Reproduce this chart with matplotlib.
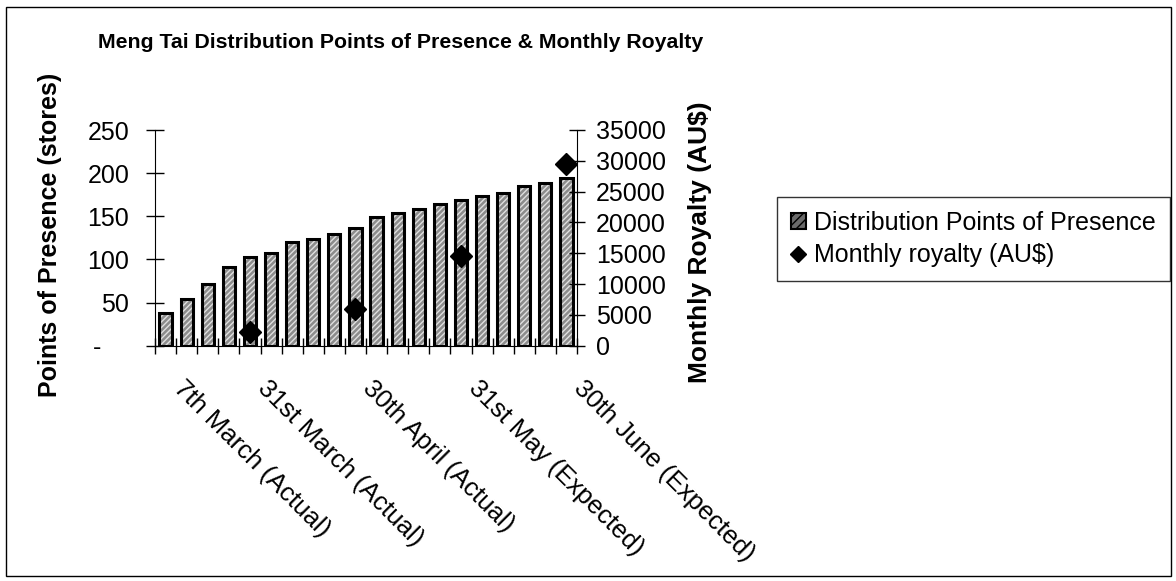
import matplotlib.pyplot as plt
from matplotlib.patches import Rectangle, Patch
from matplotlib.lines import Line2D
import matplotlib.transforms as mtransforms

plt.rcParams['font.family'] = ['Liberation Sans', 'DejaVu Sans']

# points of presence, one bar per period
stores = [38, 54, 71, 91, 103, 108, 120, 124, 129, 136,
          149, 154, 158, 164, 169, 173, 177, 185, 189, 194]
# monthly royalty, only known at some periods
royalty_idx = [4, 9, 14, 19]
royalty = [2200, 5900, 14600, 29500]
label_idx = [0, 4, 9, 14, 19]
labels = ['7th March (Actual)', '31st March (Actual)', '30th April (Actual)',
          '31st May (Expected)', '30th June (Expected)']

W, H = 1176, 581
fig = plt.figure(figsize=(W / 100, H / 100), dpi=100)
ax = fig.add_axes([155 / W, 1 - 345.7 / H, 422 / W, 215.7 / H])
ax2 = ax.twinx()

x = list(range(len(stores)))
# hatched fill, then the black outline on top
ax.bar(x, stores, width=0.58, color='#8c8c8c', edgecolor='#e0e0e0', hatch='//////', linewidth=0)
ax.bar(x, stores, width=0.58, color='none', edgecolor='black', linewidth=2.2)

ax2.plot(royalty_idx, royalty, 'D', color='black', markersize=11, linestyle='none')

ax.set_xlim(-0.5, len(stores) - 0.5)
ax.set_ylim(0, 250)
ax2.set_ylim(0, 35000)

for a in (ax, ax2):
    for s in a.spines.values():
        s.set_visible(False)
ax.spines['left'].set_visible(True)
ax.spines['bottom'].set_visible(True)
ax2.spines['right'].set_visible(True)

ax.set_yticks(range(0, 251, 50), ['-    ', '50', '100', '150', '200', '250'])
ax2.set_yticks(range(0, 35001, 5000))
ax.tick_params(axis='y', direction='inout', length=13, width=1, labelsize=18, pad=12)
ax2.tick_params(axis='y', direction='inout', length=11, width=1, labelsize=18, pad=8)

ax.set_xticks([i + 0.5 for i in range(-1, len(stores))])
ax.tick_params(axis='x', direction='inout', length=12, width=1, labelbottom=False)

off = mtransforms.ScaledTranslation(20 / 100, -30 / 100, fig.dpi_scale_trans)
for i, lab in zip(label_idx, labels):
    ax.text(i, 0, lab, transform=ax.get_xaxis_transform() + off, rotation=-45,
            rotation_mode='anchor', ha='left', va='top', fontsize=18.5)

fig.text(50 / W, 1 - 235 / H, 'Points of Presence (stores)', rotation=90,
         ha='center', va='center', fontsize=18, fontweight='bold')
fig.text(700 / W, 1 - 242 / H, 'Monthly Royalty (AU$)', rotation=90,
         ha='center', va='center', fontsize=19, fontweight='bold')
fig.text(401 / W, 1 - 43 / H, 'Meng Tai Distribution Points of Presence & Monthly Royalty',
         ha='center', va='center', fontsize=15.3, fontweight='bold')

handles = [Patch(facecolor='#6a6a6a', edgecolor='black', hatch='////', linewidth=1.5),
           Line2D([], [], marker='D', color='black', linestyle='none', markersize=8)]
leg = fig.legend(handles, ['Distribution Points of Presence', 'Monthly royalty (AU$)'],
                 loc='center left', bbox_to_anchor=(777 / W, 1 - 239 / H), fontsize=18,
                 frameon=True, fancybox=False, edgecolor='black', handlelength=0.6,
                 handleheight=0.6, handletextpad=0.35, borderpad=0.55, labelspacing=0.35,
                 borderaxespad=0)
leg.get_frame().set_linewidth(1)

fig.patches.append(Rectangle((6 / W, 5 / H), 1165 / W, 569 / H, transform=fig.transFigure,
                             fill=False, edgecolor='black', linewidth=1))

fig.savefig('out.png', dpi=100)
